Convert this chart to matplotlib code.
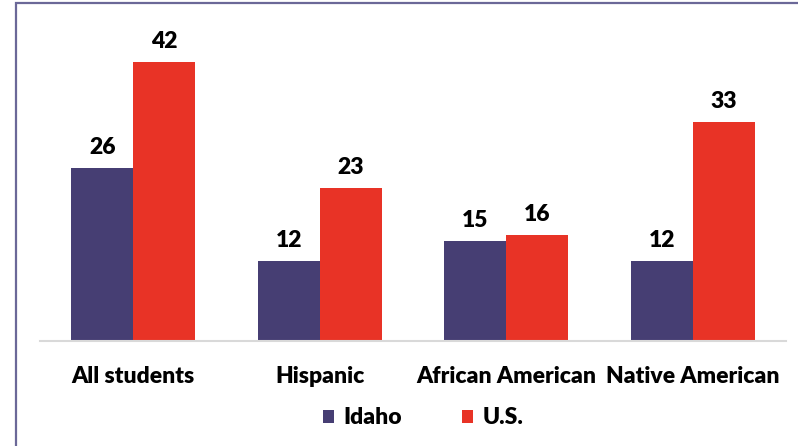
import matplotlib.pyplot as plt
import numpy as np
from matplotlib.patches import Rectangle

categories = ['All students', 'Hispanic', 'African American', 'Native American']
idaho = [26, 12, 15, 12]
us = [42, 23, 16, 33]
series_names = ['Idaho', 'U.S.']

c_idaho = '#463E73'
c_us = '#E83326'

plt.rcParams['font.family'] = ['Lato', 'DejaVu Sans']

fig = plt.figure(figsize=(7.98, 4.46), dpi=100)
W, H = 798, 446
# axes in pixel terms: left 40, right 786, top 20, baseline 341
ax = fig.add_axes([40 / W, 1 - 341 / H, (786 - 40) / W, (341 - 20) / H])

x = np.arange(len(categories))
w = 0.3325
b1 = ax.bar(x - w / 2, idaho, w, color=c_idaho, label=series_names[0])
b2 = ax.bar(x + w / 2, us, w, color=c_us, label=series_names[1])

fs = 16.5
for bars in (b1, b2):
    for rect in bars:
        v = rect.get_height()
        ax.annotate(f'{v:g}', (rect.get_x() + rect.get_width() / 2, v),
                    xytext=(0, 10), textcoords='offset pixels',
                    ha='center', va='bottom', fontsize=fs, fontweight='heavy')

ax.set_xlim(-0.5, len(categories) - 0.5)
ax.set_ylim(0, 48.3)
ax.set_yticks([])
ax.set_xticks(x)
ax.set_xticklabels(categories, fontsize=fs, fontweight='heavy')
ax.tick_params(axis='x', length=0, pad=18)
for s in ('top', 'right', 'left'):
    ax.spines[s].set_visible(False)
ax.spines['bottom'].set_color('#D9D9D9')
ax.spines['bottom'].set_linewidth(1.5)

leg = fig.legend(handles=[b1, b2], labels=series_names, loc='center',
                 bbox_to_anchor=(423 / W, 1 - 418 / H), ncol=2, frameon=False,
                 prop={'weight': 'heavy', 'size': fs}, handlelength=0.5,
                 handleheight=0.5, handletextpad=0.4, columnspacing=2.6)

# outer frame
fig.add_artist(Rectangle((15.5 / W, -0.1), 1.2, 1 - 3.5 / H + 0.1,
                         transform=fig.transFigure, fill=False,
                         edgecolor='#6B6898', linewidth=1.6))

fig.savefig('out.png', dpi=100)
